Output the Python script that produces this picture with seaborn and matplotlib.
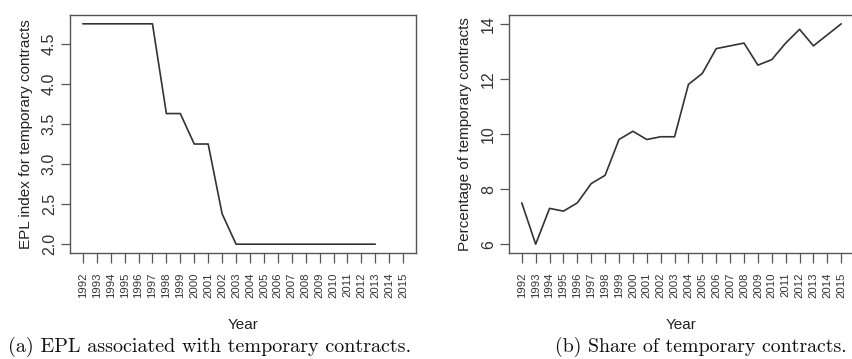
import numpy as np
import pandas as pd
import matplotlib
matplotlib.use("Agg")
import matplotlib.pyplot as plt
import seaborn as sns

years = list(range(1992, 2016))
epl_years = list(range(1992, 2014))
epl_index = [4.75, 4.75, 4.75, 4.75, 4.75, 4.75, 3.63, 3.63, 3.25, 3.25, 2.38,
             2.0, 2.0, 2.0, 2.0, 2.0, 2.0, 2.0, 2.0, 2.0, 2.0, 2.0]
share_years = list(range(1992, 2016))
share_temp = [7.5, 6.0, 7.3, 7.2, 7.5, 8.2, 8.5, 9.8, 10.1, 9.8, 9.9, 9.9,
              11.8, 12.2, 13.1, 13.2, 13.3, 12.5, 12.7, 13.3, 13.8, 13.2, 13.6, 14.0]
epl_yticks = [2.0, 2.5, 3.0, 3.5, 4.0, 4.5]
share_yticks = [6, 8, 10, 12, 14]
captions = ["(a) EPL associated with temporary contracts.",
            "(b) Share of temporary contracts."]
ylabels = ["EPL index for temporary contracts", "Percentage of temporary contracts"]

sns.set_style("white")
plt.rcParams['font.family'] = ['Liberation Sans', 'DejaVu Sans']

W, H = 852, 359
fig = plt.figure(figsize=(W / 100, H / 100), dpi=100)

line_col = "#333333"
spine_col = "#555555"

def px_axes(left, top, right, bottom):
    return fig.add_axes([left / W, 1 - bottom / H, (right - left) / W, (bottom - top) / H])

ax1 = px_axes(70, 15, 416, 253)
ax2 = px_axes(509, 15, 854, 253)

df1 = pd.DataFrame({"Year": epl_years, "EPL": epl_index})
df2 = pd.DataFrame({"Year": share_years, "Share": share_temp})
sns.lineplot(data=df1, x="Year", y="EPL", ax=ax1, color=line_col, linewidth=1.2)
sns.lineplot(data=df2, x="Year", y="Share", ax=ax2, color=line_col, linewidth=1.2)

for ax, yt, ylab, data in [(ax1, epl_yticks, ylabels[0], epl_index),
                           (ax2, share_yticks, ylabels[1], share_temp)]:
    ax.set_xlim(1992 - 0.04 * 23, 2015 + 0.04 * 23)
    lo, hi = min(data), max(data)
    pad = 0.04 * (hi - lo)
    ax.set_ylim(lo - pad, hi + pad)
    ax.set_xticks(years)
    ax.set_xticklabels([str(y) for y in years], rotation=90, fontsize=8.2, color="#333333")
    ax.set_yticks(yt)
    ax.set_yticklabels([f"{v:g}" if isinstance(v, int) else f"{v:.1f}" for v in yt],
                       rotation=90, va="center", fontsize=11.5, color="#333333")
    ax.tick_params(axis="x", direction="out", length=7.2, width=0.9, color=spine_col, pad=7, bottom=True)
    ax.tick_params(axis="y", direction="out", length=6.5, width=0.9, color=spine_col, pad=3, left=True)
    for s in ax.spines.values():
        s.set_visible(True)
        s.set_color(spine_col)
        s.set_linewidth(1.0)
    ax.set_xlabel("Year", fontsize=11, color="#222222", labelpad=14)
    ax.set_ylabel(ylab, fontsize=11, color="#222222", labelpad=6)

fig.text(210 / W, 1 - 347 / H, captions[0], family="cmr10", fontsize=14.5,
         ha="center", va="center", color="#111111")
fig.text(701 / W, 1 - 347 / H, captions[1], family="cmr10", fontsize=14.3,
         ha="center", va="center", color="#111111")

fig.savefig("out.png", dpi=100)
